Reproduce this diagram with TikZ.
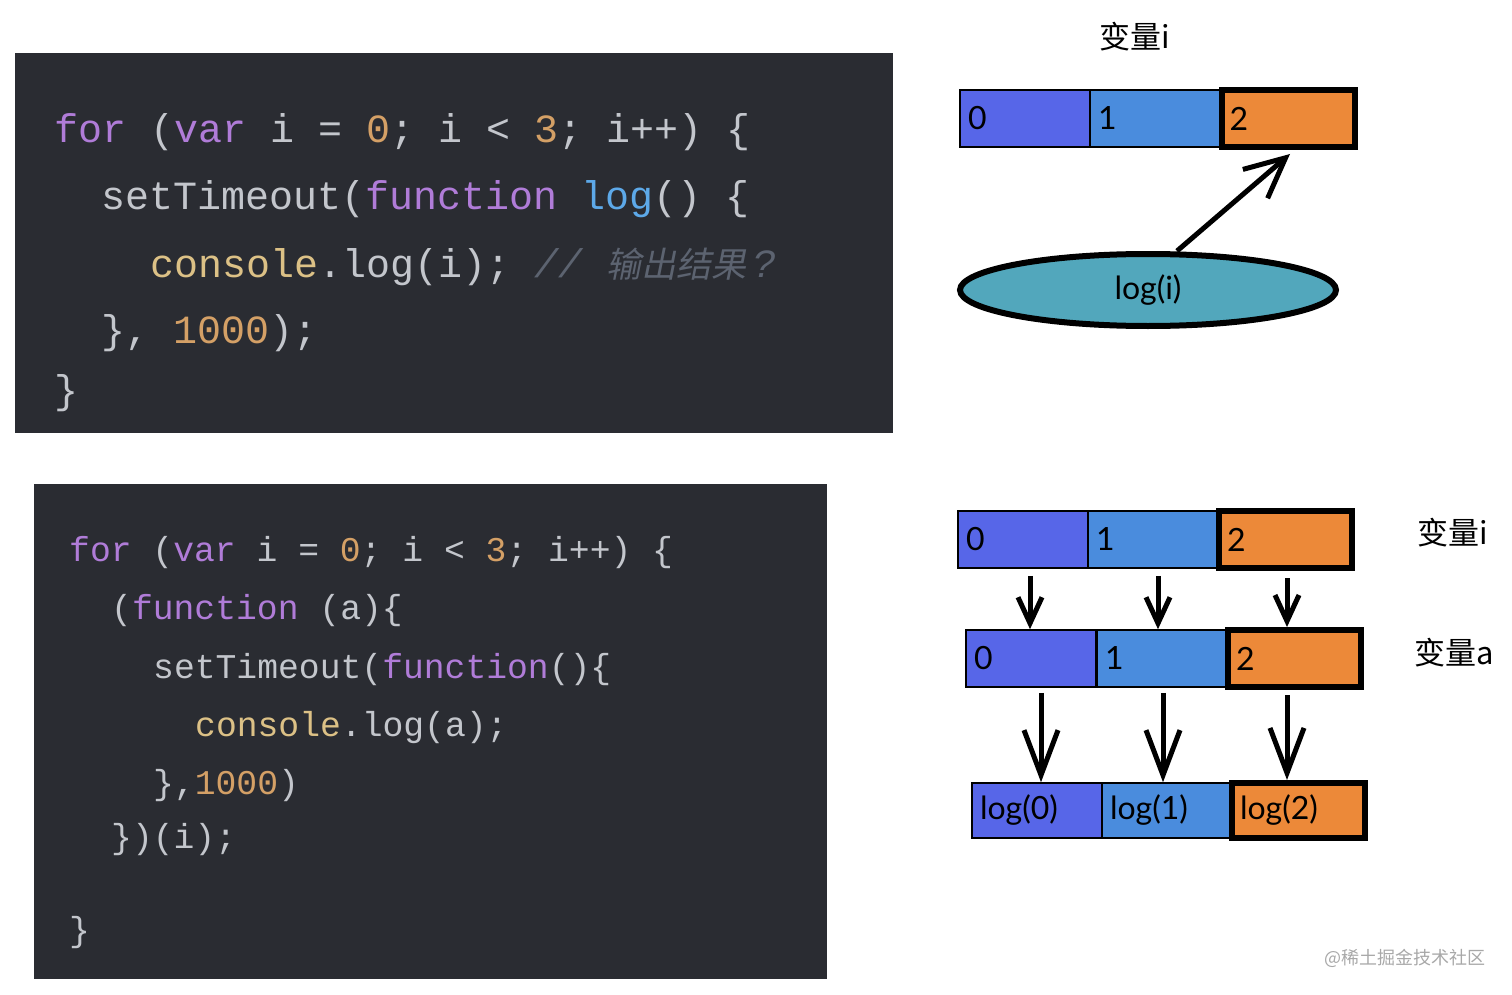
\documentclass[tikz,border=0pt]{standalone}
\usepackage{fontspec}
\setmainfont{Lato}
\newfontfamily\codefont{Liberation Mono}
\newfontfamily\cjk{Noto Sans CJK SC}
\newfontfamily\cjkslant[FakeSlant=0.2]{Noto Sans CJK SC}
\usetikzlibrary{shapes.geometric,arrows.meta,calc}

\definecolor{codebg}{HTML}{2A2C32}
\definecolor{codetxt}{HTML}{C3C6CC}
\definecolor{codekw}{HTML}{B07CD8}
\definecolor{codenum}{HTML}{D4A066}
\definecolor{codeobj}{HTML}{DCC186}
\definecolor{codefn}{HTML}{5DA9E9}
\definecolor{codecom}{HTML}{5C6370}
\definecolor{cellA}{HTML}{5766E8}
\definecolor{cellB}{HTML}{4A8CDD}
\definecolor{cellC}{HTML}{EC8939}
\definecolor{poolfill}{HTML}{52A7BC}
\definecolor{wmgray}{HTML}{A8A8A8}

\newcommand{\ckw}[1]{\textcolor{codekw}{#1}}
\newcommand{\cnum}[1]{\textcolor{codenum}{#1}}
\newcommand{\cobj}[1]{\textcolor{codeobj}{#1}}
\newcommand{\cfn}[1]{\textcolor{codefn}{#1}}
\newcommand{\ccom}[1]{\textcolor{codecom}{\itshape #1}}
\newcommand{\codeA}{\codefont\fontsize{40}{42}\selectfont}
\newcommand{\codeB}{\codefont\fontsize{34.7}{36}\selectfont}
\newcommand{\handA}{\fontsize{32}{34}\selectfont}

\begin{document}
\begin{tikzpicture}[x=1pt,y=-1pt,
  codeline/.style={anchor=base west, inner sep=0pt, text=codetxt},
  cellbase/.style={draw=black, minimum height=57pt, inner xsep=8pt, inner ysep=0pt, align=left, font=\handA},
  cellblue/.style={cellbase, fill=cellA, line width=1.6pt, text width=114pt},
  cellmid/.style={cellbase, fill=cellB, line width=1.6pt, text width=114pt},
  cellorange/.style={cellbase, fill=cellC, line width=6pt, text width=117pt},
  pool/.style={ellipse, draw=black, line width=6pt, fill=poolfill, minimum width=376pt, minimum height=72pt, inner sep=0pt, font=\handA},
  varname/.style={font=\cjk\fontsize{31}{33}\selectfont, inner sep=0pt},
  bigarrow/.style={line width=5pt, -{Straight Barb[length=40pt,width=38pt]}},
  arrsmall/.style={line width=5pt, -{Straight Barb[length=26pt,width=24pt]}},
  arrlong/.style={line width=5pt, -{Straight Barb[length=45pt,width=34pt]}}]
\useasboundingbox (0,0) rectangle (1512,995);

\fill[codebg] (15,53) rectangle (893,433);
\node[codeline, font=\codeA] (pa1) at (54,143) {\ckw{for} (\ckw{var} i = \cnum{0}; i < \cnum{3}; i++) \{};
\node[codeline, font=\codeA] (pa2) at (101,210) {setTimeout(\ckw{function} \cfn{log}() \{};
\node[codeline, font=\codeA] (pa3) at (150,277) {\cobj{console}.log(i); \ccom{// {\cjkslant\fontsize{35}{37}\selectfont 输出结果}\,?}};
\node[codeline, font=\codeA] (pa4) at (101,343) {\}, \cnum{1000});};
\node[codeline, font=\codeA] (pa5) at (54,403) {\}};

\fill[codebg] (34,484) rectangle (827,979);
\node[codeline, font=\codeB] (pb1) at (69,561) {\ckw{for} (\ckw{var} i = \cnum{0}; i < \cnum{3}; i++) \{};
\node[codeline, font=\codeB] (pb2) at (111,619) {(\ckw{function} (a)\{};
\node[codeline, font=\codeB] (pb3) at (153,678) {setTimeout(\ckw{function}()\{};
\node[codeline, font=\codeB] (pb4) at (195,736) {\cobj{console}.log(a);};
\node[codeline, font=\codeB] (pb5) at (153,794) {\},\cnum{1000})};
\node[codeline, font=\codeB] (pb6) at (111,848) {\})(i);};
\node[codeline, font=\codeB] (pb7) at (69,941) {\}};

\node[varname] (t1) at (1135,37) {变量i};
\foreach \k/\x/\s in {0/1025/cellblue, 1/1155/cellmid, 2/1288/cellorange}
  \node[\s] (v\k) at (\x,118.5) {\k};
\node[pool] (lg) at (1148,290) {log(i)};
\draw[bigarrow] ([xshift=29pt]lg.north) -- ([xshift=2pt,yshift=-4pt]v2.south);

\foreach \k/\x/\s in {0/1023/cellblue, 1/1153/cellmid, 2/1285.5/cellorange}
  \node[\s] (vi\k) at (\x,539.5) {\k};
\foreach \k/\x/\s in {0/1031/cellblue, 1/1162/cellmid, 2/1294.5/cellorange}
  \node[\s] (va\k) at (\x,658.5) {\k};
\foreach \k/\x/\s in {0/1037/cellblue, 1/1167/cellmid, 2/1298.5/cellorange}
  \node[\s, minimum height=55pt] (vl\k) at (\x,810.5) {log(\k)};
\node[varname] (ti) at (1453,533) {变量i};
\node[varname] (ta) at (1454,653) {变量a};

\foreach \k/\d in {0/-1,1/-4,2/-7.5}
  \draw[arrsmall] ($(vi\k.south -| va\k.north)+(\d,7)$) -- ($(va\k.north)+(\d,0)$);
\foreach \k/\d in {0/4,1/-4,2/-11.5}
  \draw[arrlong] ($(va\k.south -| vl\k.north)+(\d,5)$) -- ($(vl\k.north)+(\d,0)$);

\node[text=wmgray, font=\cjk\fontsize{18}{20}\selectfont, inner sep=0pt] (wm) at (1405,958) {@稀土掘金技术社区};
\end{tikzpicture}
\end{document}
